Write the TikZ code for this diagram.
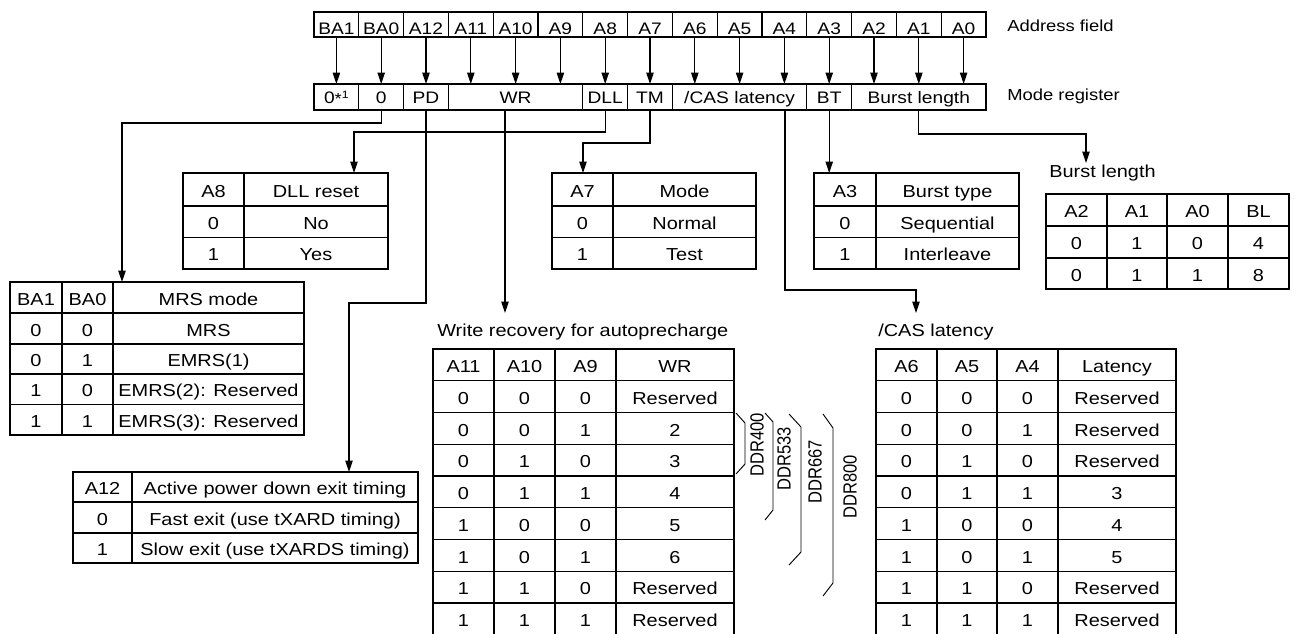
\documentclass[tikz,border=0pt]{standalone}
\usepackage{fontspec}
\setmainfont[FakeStretch=1.15]{Liberation Sans}
\newfontfamily\plainsans{Liberation Sans}
\usetikzlibrary{arrows.meta}
\newcommand\tabf{\fontsize{13pt}{15pt}\selectfont}
\newcommand\topf{\fontsize{12.5pt}{14pt}\selectfont}
\newcommand\labf{\fontsize{12pt}{14pt}\selectfont}
\newcommand\ddrf{\plainsans\fontsize{12.4pt}{14pt}\selectfont}
% \cel[opts]{name}{x1}{y1}{x2}{y2}{text}
\newcommand\cel[7][]{\node[cell,minimum width={(#5-#3)*0.75pt},minimum height={(#6-#4)*0.75pt},#1] (#2) at ({(#3+#5)/2},{(#4+#6)/2}) {#7};}
\tikzset{
  cell/.style={draw, line width=1pt, inner sep=0pt, outer sep=0pt, font=\tabf, text height=11.5pt, text depth=0pt},
  addr/.style={font=\topf, text height=15pt},
  mode/.style={font=\topf, text height=10pt},
  lab/.style={font=\labf, inner sep=0pt, text height=8.6pt, text depth=0pt, anchor=west},
  ttl/.style={font=\tabf, inner sep=0pt, text height=9.3pt, text depth=0pt, anchor=west},
  conn/.style={line width=0.85pt},
  arr/.style={conn, -{Triangle[length=8.5pt,width=5.5pt]}},
  brace/.style={line width=0.7pt},
  ddr/.style={font=\ddrf, inner sep=0pt}
}
\begin{document}
\begin{tikzpicture}[x=0.75pt, y=-0.75pt]
\useasboundingbox (0,0) rectangle (1294,633);
\clip (0,0) rectangle (1294,633);

% Address field
\foreach \t [count=\i from 0] in {BA1,BA0,A12,A11,A10,A9,A8,A7,A6,A5,A4,A3,A2,A1,A0}{
  \pgfmathsetmacro\xa{314+44.8*\i}\pgfmathsetmacro\xb{\xa+44.8}
  \cel[addr]{a\i}{\xa}{12}{\xb}{37}{\t}
}
\node[lab] (lAF) at (1007,26) {Address field};

% Mode register
\cel[mode]{m1}{314}{84}{358.8}{110}{0{\fontsize{12pt}{12pt}\selectfont\raisebox{-0.5pt}{*}}\raisebox{4pt}{\fontsize{8pt}{8pt}\selectfont 1}}
\cel[mode]{m2}{358.8}{84}{403.6}{110}{0}
\cel[mode]{m3}{403.6}{84}{448.4}{110}{PD}
\cel[mode]{m4}{448.4}{84}{582.8}{110}{WR}
\cel[mode]{m5}{582.8}{84}{627.6}{110}{DLL}
\cel[mode]{m6}{627.6}{84}{672.4}{110}{TM}
\cel[mode]{m7}{672.4}{84}{806.8}{110}{/CAS latency}
\cel[mode]{m8}{806.8}{84}{851.6}{110}{BT}
\cel[mode]{m9}{851.6}{84}{986}{110}{Burst length}
\node[lab] (lMR) at (1007,95) {Mode register};

\foreach \i in {0,...,14}{\draw[arr] (a\i.south) -- (a\i.south |- m1.north);}

% A8 table
\cel{t8a}{183}{173}{244}{206}{A8}
\cel{t8b}{244}{173}{388}{206}{DLL reset}
\cel{t8c}{183}{206}{244}{237.5}{0}
\cel{t8d}{244}{206}{388}{237.5}{No}
\cel{t8e}{183}{237.5}{244}{269}{1}
\cel{t8f}{244}{237.5}{388}{269}{Yes}

% A7 table
\cel{t7a}{552}{173}{613}{206}{A7}
\cel{t7b}{613}{173}{756}{206}{Mode}
\cel{t7c}{552}{206}{613}{237.5}{0}
\cel{t7d}{613}{206}{756}{237.5}{Normal}
\cel{t7e}{552}{237.5}{613}{269}{1}
\cel{t7f}{613}{237.5}{756}{269}{Test}

% A3 table
\cel{t3a}{814}{173}{876}{206}{A3}
\cel{t3b}{876}{173}{1019}{206}{Burst type}
\cel{t3c}{814}{206}{876}{237.5}{0}
\cel{t3d}{876}{206}{1019}{237.5}{Sequential}
\cel{t3e}{814}{237.5}{876}{269}{1}
\cel{t3f}{876}{237.5}{1019}{269}{Interleave}

% Burst length table
\node[ttl] (tBL) at (1049,171) {Burst length};
\cel{bla}{1046}{194}{1107}{226}{A2}
\cel{blb}{1107}{194}{1167}{226}{A1}
\cel{blc}{1167}{194}{1228}{226}{A0}
\cel{bld}{1228}{194}{1289}{226}{BL}
\cel{ble}{1046}{226}{1107}{258}{0}
\cel{blf}{1107}{226}{1167}{258}{1}
\cel{blg}{1167}{226}{1228}{258}{0}
\cel{blh}{1228}{226}{1289}{258}{4}
\cel{bli}{1046}{258}{1107}{289}{0}
\cel{blj}{1107}{258}{1167}{289}{1}
\cel{blk}{1167}{258}{1228}{289}{1}
\cel{bll}{1228}{258}{1289}{289}{8}

% MRS table
\cel{mrsa}{10}{282}{62}{313}{BA1}
\cel{mrsb}{62}{282}{113}{313}{BA0}
\cel{mrsc}{113}{282}{304}{313}{MRS mode}
\foreach \i/\p/\q/\v/\ya/\yb in {1/0/0/MRS/313/344, 2/0/1/EMRS(1)/344/374, 3/1/0/EMRS(2): Reserved/374/404.5, 4/1/1/EMRS(3): Reserved/404.5/435}{
  \cel{mrsa\i}{10}{\ya}{62}{\yb}{\p}
  \cel{mrsb\i}{62}{\ya}{113}{\yb}{\q}
  \cel{mrsc\i}{113}{\ya}{304}{\yb}{\v}
}

% A12 table
\cel{pa}{73}{472}{132}{502}{A12}
\cel{pb}{132}{472}{418}{502}{Active power down exit timing}
\cel{pc}{73}{502}{132}{533}{0}
\cel{pd}{132}{502}{418}{533}{Fast exit (use tXARD timing)}
\cel{pe}{73}{533}{132}{563}{1}
\cel{pf}{132}{533}{418}{563}{Slow exit (use tXARDS timing)}

% Write recovery table
\node[ttl] (tWR) at (437,330) {Write recovery for autoprecharge};
\cel{wra0}{433}{349}{494}{380.75}{A11}
\cel{wrb0}{494}{349}{555}{380.75}{A10}
\cel{wrc0}{555}{349}{616}{380.75}{A9}
\cel{wrd0}{616}{349}{734}{380.75}{WR}
\foreach \i/\p/\q/\r/\v in {1/0/0/0/Reserved,2/0/0/1/2,3/0/1/0/3,4/0/1/1/4,5/1/0/0/5,6/1/0/1/6,7/1/1/0/Reserved,8/1/1/1/Reserved}{
  \pgfmathsetmacro\ya{349+31.75*\i}\pgfmathsetmacro\yb{\ya+31.75}
  \cel{wra\i}{433}{\ya}{494}{\yb}{\p}
  \cel{wrb\i}{494}{\ya}{555}{\yb}{\q}
  \cel{wrc\i}{555}{\ya}{616}{\yb}{\r}
  \cel{wrd\i}{616}{\ya}{734}{\yb}{\v}
}

% CAS latency table
\node[ttl] (tCAS) at (878,330) {/CAS latency};
\cel{csa0}{876}{349}{937}{380.75}{A6}
\cel{csb0}{937}{349}{997}{380.75}{A5}
\cel{csc0}{997}{349}{1058}{380.75}{A4}
\cel{csd0}{1058}{349}{1176}{380.75}{Latency}
\foreach \i/\p/\q/\r/\v in {1/0/0/0/Reserved,2/0/0/1/Reserved,3/0/1/0/Reserved,4/0/1/1/3,5/1/0/0/4,6/1/0/1/5,7/1/1/0/Reserved,8/1/1/1/Reserved}{
  \pgfmathsetmacro\ya{349+31.75*\i}\pgfmathsetmacro\yb{\ya+31.75}
  \cel{csa\i}{876}{\ya}{937}{\yb}{\p}
  \cel{csb\i}{937}{\ya}{997}{\yb}{\q}
  \cel{csc\i}{997}{\ya}{1058}{\yb}{\r}
  \cel{csd\i}{1058}{\ya}{1176}{\yb}{\v}
}

% DDR braces
\draw[brace] (736,413) -- (745,423) -- (745,464) -- (736,474);
\draw[brace] (765,413) -- (773,422) -- (773,510) -- (765,520);
\draw[brace] (789,414) -- (801,427) -- (801,552) -- (789,565);
\draw[brace] (823,414) -- (833,428) -- (833,583) -- (823,596);
\node[ddr, shift={(757,445)}, xscale=1.15, rotate=90] (d400) {DDR400};
\node[ddr, shift={(784,459)}, xscale=1.15, rotate=90] (d533) {DDR533};
\node[ddr, shift={(815,472)}, xscale=1.15, rotate=90] (d667) {DDR667};
\node[ddr, shift={(850,487)}, xscale=1.15, rotate=90] (d800) {DDR800};

% Connectors from mode register
\coordinate (k1) at (122,123);
\draw[arr] (m2.south) |- (k1) -- (k1 |- mrsc.north);
\coordinate (k2) at (349,303);
\draw[arr] (m3.south) |- (k2) -- (k2 |- pb.north);
\coordinate (k3) at (505,313);
\draw[arr] (k3 |- m4.south) -- (k3);
\coordinate (k4) at (354,132);
\draw[arr] (m5.south) |- (k4) -- (k4 |- t8b.north);
\coordinate (k5) at (583,143);
\draw[arr] (m6.south) |- (k5) -- (k5 |- t7a.north);
\coordinate (k6) at (785,290);
\coordinate (k7) at (916,313);
\draw[arr] (k6 |- m7.south) -- (k6) -| (k7);
\draw[arr] (m8.south) -- (m8.south |- t3a.north);
\coordinate (k8) at (1086,134);
\coordinate (k9) at (1086,163);
\draw[arr] (m9.south) |- (k8) -- (k9);
\end{tikzpicture}
\end{document}
